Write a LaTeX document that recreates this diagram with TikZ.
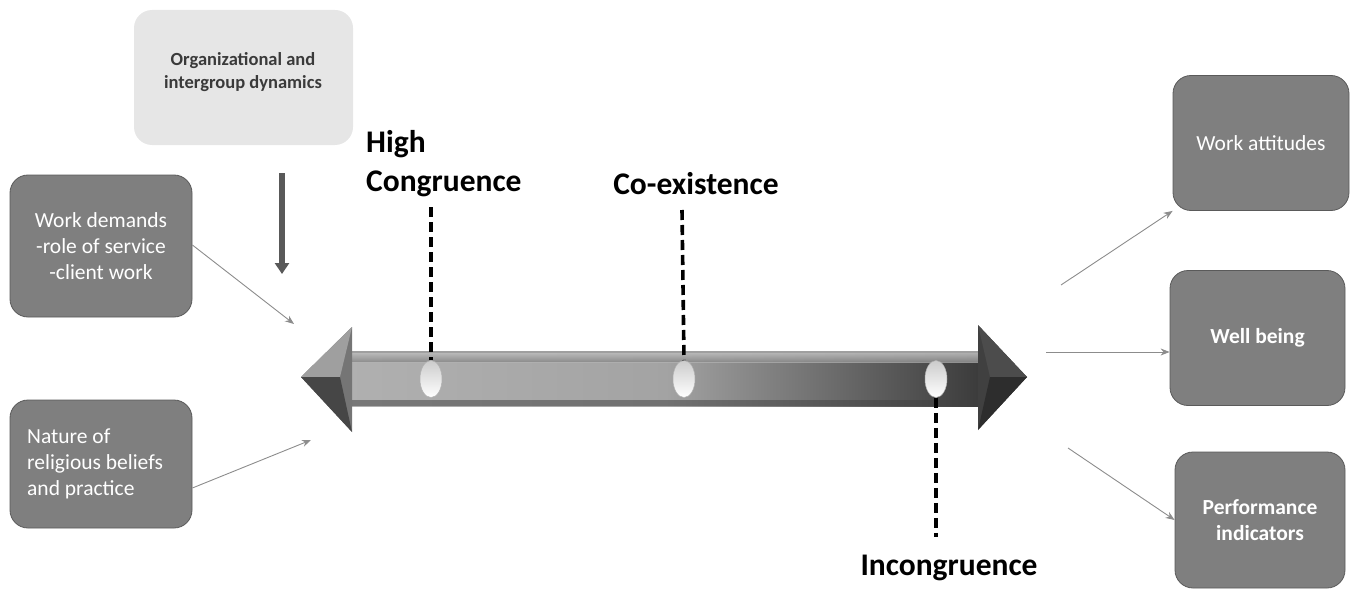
\documentclass[tikz,border=0pt]{standalone}
\usepackage{fontspec}
\setmainfont{Carlito}
\usetikzlibrary{arrows.meta,shapes.geometric}
\definecolor{boxgray}{HTML}{7F7F7F}
\definecolor{boxedge}{HTML}{5A5A5A}
\definecolor{lightbox}{HTML}{E6E6E6}
\definecolor{linegray}{HTML}{8C8C8C}
\definecolor{darkarrow}{HTML}{595959}
\definecolor{orgtext}{HTML}{3A3A3A}
\tikzset{
  darkbox/.style={draw=boxedge, line width=0.8pt, fill=boxgray, rounded corners=18pt, text=white, font=\fontsize{21.5}{26}\selectfont, align=center, inner sep=0pt},
  thinarrow/.style={draw=linegray, line width=0.9pt, -{Stealth[length=9pt,width=7pt]}},
  stage/.style={font=\fontsize{31.5}{39}\selectfont\bfseries, text=black, inner sep=0pt},
  dashline/.style={line width=3.6pt, dash pattern=on 10pt off 5pt, black},
  marker/.style={ellipse, minimum width=22pt, minimum height=37pt, inner sep=0pt, draw=gray!60, line width=0.5pt, left color=gray!40, right color=white, shading angle=0}
}
\begin{document}
\begin{tikzpicture}[x=1pt,y=-1pt]
\useasboundingbox (0,0) rectangle (1354,591);
% Organizational box
\node[fill=lightbox, rounded corners=18pt, minimum width=219pt, minimum height=135pt, inner sep=0pt] (org) at (243.5,77.5) {};
\node[font=\fontsize{18.5}{23}\selectfont\bfseries, text=orgtext, align=center] (orgtxt) at (243,72) {Organizational and\\intergroup dynamics};
\coordinate (downtop) at (282,173);
\coordinate (downend) at (282,274);
\draw[darkarrow, line width=6pt, -{Triangle[length=11pt,width=14pt]}] (downtop) -- (downend);
% left boxes
\node[darkbox, minimum width=182pt, minimum height=142pt] (wd) at (101,246) {Work demands\\-role of service\\-client work};
\node[darkbox, minimum width=182pt, minimum height=128pt] (nat) at (101,464) {};
\node[anchor=west, text=white, font=\fontsize{21.5}{26}\selectfont, align=left, inner sep=0pt] (nattxt) at (27,464) {Nature of\\religious beliefs\\and practice};
\coordinate (wdend) at (294,324);
\coordinate (natend) at (311,440);
\draw[thinarrow] (wd.east|-0,245) -- (wdend);
\draw[thinarrow] (nat.east|-0,488) -- (natend);
% right boxes
\node[darkbox, minimum width=176pt, minimum height=135pt] (wa) at (1261,143) {Work attitudes};
\node[darkbox, minimum width=175pt, minimum height=135pt, font=\fontsize{21.5}{26}\selectfont\bfseries] (wb) at (1257.5,338) {Well being};
\node[darkbox, minimum width=170pt, minimum height=136pt, font=\fontsize{21.5}{26}\selectfont\bfseries] (pi) at (1260,520) {Performance\\indicators};
\coordinate (s1) at (1061,285);
\coordinate (s2) at (1046,352);
\coordinate (s3) at (1068,448);
\draw[thinarrow] (s1) -- (wa.south west);
\draw[thinarrow] (s2) -- (s2 -| wb.west);
\draw[thinarrow] (s3) -- (pi.west);
% big double arrow
\fill[left color=gray!62, right color=gray!45!black, middle color=gray!72!white] (345,351) rectangle (985,406);
\fill[top color=white, bottom color=gray!60, opacity=0.7] (352,351) rectangle (978,362);
\fill[gray!75] (352,351) -- (978,351) -- (978,353) -- (352,353) -- cycle;
\fill[gray!50!black, opacity=0.5] (352,400) rectangle (978,406);
\fill[gray!92!black] (301,377) -- (352,327) -- (352,432) -- cycle;
\fill[gray!75] (301,377) -- (352,327) -- (340,377) -- cycle;
\fill[gray!55!black] (301,377) -- (340,377) -- (352,432) -- cycle;
\fill[gray!50!black] (1027,377) -- (978,325) -- (978,430) -- cycle;
\fill[gray!60!black] (1027,377) -- (978,325) -- (990,377) -- cycle;
\fill[gray!35!black] (1027,377) -- (990,377) -- (978,430) -- cycle;
% markers
\node[marker] (m1) at (431,379) {};
\node[marker] (m2) at (684,379) {};
\node[marker] (m3) at (936,379) {};
% labels
\node[stage, anchor=west, align=left] (hc) at (366,164) {High\\Congruence};
\node[stage] (co) at (696,184) {Co-existence};
\node[stage] (inc) at (949,568) {Incongruence};
\coordinate (hctop) at (431,207);
\coordinate (cotop) at (682,210);
\coordinate (incbot) at (936,537);
\draw[dashline] (hctop) -- (m1.north);
\draw[dashline] (cotop) -- (m2.north);
\draw[dashline] (m3.south) -- (incbot);
\end{tikzpicture}
\end{document}
